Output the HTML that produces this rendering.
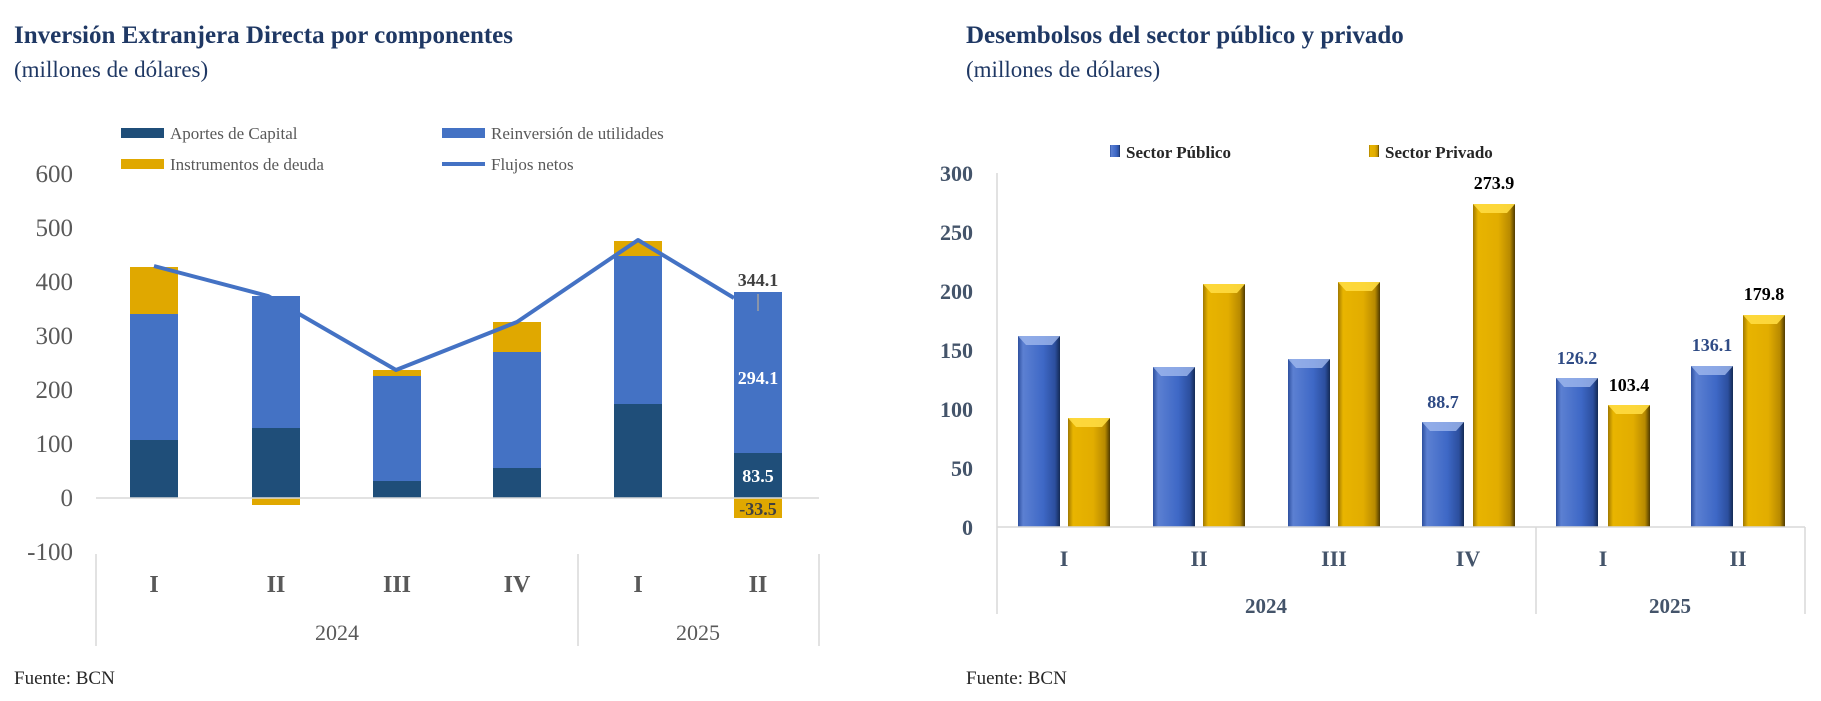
<!DOCTYPE html>
<html><head><meta charset="utf-8"><style>
html,body{margin:0;padding:0;background:#fff;}
svg{display:block;font-family:"Liberation Serif",serif;}
</style></head><body>
<svg width="1821" height="701" viewBox="0 0 1821 701" xmlns="http://www.w3.org/2000/svg">
<defs>
<linearGradient id="gb" x1="0" x2="1" y1="0" y2="0">
<stop offset="0" stop-color="#2d4f9e"/><stop offset="0.12" stop-color="#5c80d2"/><stop offset="0.6" stop-color="#3e68c6"/><stop offset="0.88" stop-color="#2c4f9e"/><stop offset="1" stop-color="#142a55"/></linearGradient>
<linearGradient id="gy" x1="0" x2="1" y1="0" y2="0">
<stop offset="0" stop-color="#a07800"/><stop offset="0.12" stop-color="#e8b400"/><stop offset="0.6" stop-color="#e2ad00"/><stop offset="0.88" stop-color="#b88a00"/><stop offset="1" stop-color="#4f3a00"/></linearGradient>
</defs>
<!-- LEFT -->
<text x="14" y="43" font-size="25" font-weight="bold" fill="#1f3864">Inversión Extranjera Directa por componentes</text>
<text x="14" y="77" font-size="23" fill="#1f3864">(millones de dólares)</text>
<rect x="121" y="128" width="43" height="10" fill="#1f4e79"/><text x="170" y="139" font-size="17" fill="#595959">Aportes de Capital</text>
<rect x="442" y="128" width="43" height="10" fill="#4472c4"/><text x="491" y="139" font-size="17" fill="#595959">Reinversión de utilidades</text>
<rect x="121" y="159" width="43" height="10" fill="#e0a800"/><text x="170" y="170" font-size="17" fill="#595959">Instrumentos de deuda</text>
<line x1="442" y1="164" x2="485" y2="164" stroke="#4472c4" stroke-width="4"/><text x="491" y="170" font-size="17" fill="#595959">Flujos netos</text>
<g font-size="25" fill="#595959" text-anchor="end">
<text x="73" y="182">600</text><text x="73" y="236">500</text><text x="73" y="290">400</text><text x="73" y="344">300</text><text x="73" y="398">200</text><text x="73" y="452">100</text><text x="73" y="506">0</text><text x="73" y="560">-100</text></g>
<g>
<rect x="130" y="440" width="48" height="58" fill="#1f4e79"/><rect x="130" y="314" width="48" height="126" fill="#4472c4"/><rect x="130" y="267" width="48" height="47" fill="#e0a800"/>
<rect x="252" y="428" width="48" height="70" fill="#1f4e79"/><rect x="252" y="296" width="48" height="132" fill="#4472c4"/><rect x="252" y="498" width="48" height="7" fill="#e0a800"/>
<rect x="373" y="481" width="48" height="17" fill="#1f4e79"/><rect x="373" y="376" width="48" height="105" fill="#4472c4"/><rect x="373" y="370" width="48" height="6" fill="#e0a800"/>
<rect x="493" y="468" width="48" height="30" fill="#1f4e79"/><rect x="493" y="352" width="48" height="116" fill="#4472c4"/><rect x="493" y="322" width="48" height="30" fill="#e0a800"/>
<rect x="614" y="404" width="48" height="94" fill="#1f4e79"/><rect x="614" y="256" width="48" height="148" fill="#4472c4"/><rect x="614" y="241" width="48" height="15" fill="#e0a800"/>
<rect x="734" y="453" width="48" height="45" fill="#1f4e79"/><rect x="734" y="292" width="48" height="161" fill="#4472c4"/><rect x="734" y="498" width="48" height="20" fill="#e0a800"/>
</g>
<line x1="96" y1="498" x2="819" y2="498" stroke="#d9d9d9" stroke-width="1.5"/>
<polyline points="154,266 268,296 396,370 517,322 638,240 734,298" fill="none" stroke="#4472c4" stroke-width="4" stroke-linejoin="round"/>
<line x1="758" y1="294" x2="758" y2="311" stroke="#a0a0a0" stroke-width="1.5"/>
<g font-size="18" font-weight="bold" text-anchor="middle">
<text x="758" y="286" fill="#404040">344.1</text>
<text x="758" y="384" fill="#fff">294.1</text>
<text x="758" y="482" fill="#fff">83.5</text>
<text x="758" y="515" fill="#404040">-33.5</text></g>
<g stroke="#d9d9d9" stroke-width="1.5"><line x1="96" y1="554" x2="96" y2="646"/><line x1="578" y1="554" x2="578" y2="646"/><line x1="819" y1="554" x2="819" y2="646"/></g>
<g font-size="24" font-weight="bold" fill="#595959" text-anchor="middle">
<text x="154" y="592">I</text><text x="276" y="592">II</text><text x="397" y="592">III</text><text x="517" y="592">IV</text><text x="638" y="592">I</text><text x="758" y="592">II</text></g>
<g font-size="22" fill="#595959" text-anchor="middle"><text x="337" y="640">2024</text><text x="698" y="640">2025</text></g>
<text x="14" y="684" font-size="19" fill="#262626">Fuente: BCN</text>

<!-- RIGHT -->
<text x="966" y="43" font-size="25" font-weight="bold" fill="#1f3864">Desembolsos del sector público y privado</text>
<text x="966" y="77" font-size="23" fill="#1f3864">(millones de dólares)</text>
<rect x="1110" y="145" width="10" height="12" fill="url(#gb)"/><text x="1126" y="158" font-size="17" font-weight="bold" fill="#262626">Sector Público</text>
<rect x="1369" y="145" width="10" height="12" fill="url(#gy)"/><text x="1385" y="158" font-size="17" font-weight="bold" fill="#262626">Sector Privado</text>
<g font-size="22" font-weight="bold" fill="#44546a" text-anchor="end">
<text x="973" y="181">300</text><text x="973" y="240">250</text><text x="973" y="299">200</text><text x="973" y="358">150</text><text x="973" y="417">100</text><text x="973" y="476">50</text><text x="973" y="535">0</text></g>
<line x1="997" y1="173" x2="997" y2="614" stroke="#d9d9d9" stroke-width="1.5"/>
<g>
<rect x="1018" y="336" width="42" height="191" fill="url(#gb)"/>
<rect x="1153" y="367" width="42" height="160" fill="url(#gb)"/>
<rect x="1288" y="359" width="42" height="168" fill="url(#gb)"/>
<rect x="1422" y="422" width="42" height="105" fill="url(#gb)"/>
<rect x="1556" y="378" width="42" height="149" fill="url(#gb)"/>
<rect x="1691" y="366" width="42" height="161" fill="url(#gb)"/>
<rect x="1068" y="418" width="42" height="109" fill="url(#gy)"/>
<rect x="1203" y="284" width="42" height="243" fill="url(#gy)"/>
<rect x="1338" y="282" width="42" height="245" fill="url(#gy)"/>
<rect x="1473" y="204" width="42" height="323" fill="url(#gy)"/>
<rect x="1608" y="405" width="42" height="122" fill="url(#gy)"/>
<rect x="1743" y="315" width="42" height="212" fill="url(#gy)"/>
</g>
<g fill="#9fb8ee" opacity="0.8">
<polygon points="1018,336 1060,336 1052,345 1026,345"/><polygon points="1153,367 1195,367 1187,376 1161,376"/><polygon points="1288,359 1330,359 1322,368 1296,368"/><polygon points="1422,422 1464,422 1456,431 1430,431"/><polygon points="1556,378 1598,378 1590,387 1564,387"/><polygon points="1691,366 1733,366 1725,375 1699,375"/></g>
<g fill="#ffdc40" opacity="0.9">
<polygon points="1068,418 1110,418 1102,427 1076,427"/><polygon points="1203,284 1245,284 1237,293 1211,293"/><polygon points="1338,282 1380,282 1372,291 1346,291"/><polygon points="1473,204 1515,204 1507,213 1481,213"/><polygon points="1608,405 1650,405 1642,414 1616,414"/><polygon points="1743,315 1785,315 1777,324 1751,324"/></g>
<line x1="997" y1="527" x2="1805" y2="527" stroke="#d9d9d9" stroke-width="1.5"/>
<g stroke="#d9d9d9" stroke-width="1.5"><line x1="1536" y1="527" x2="1536" y2="614"/><line x1="1805" y1="527" x2="1805" y2="614"/></g>
<g font-size="18" font-weight="bold" text-anchor="middle">
<text x="1494" y="189" fill="#000">273.9</text>
<text x="1443" y="408" fill="#2f4b85">88.7</text>
<text x="1577" y="364" fill="#2f4b85">126.2</text>
<text x="1629" y="391" fill="#000">103.4</text>
<text x="1712" y="351" fill="#2f4b85">136.1</text>
<text x="1764" y="300" fill="#000">179.8</text></g>
<g font-size="22" font-weight="bold" fill="#44546a" text-anchor="middle">
<text x="1064" y="566">I</text><text x="1199" y="566">II</text><text x="1334" y="566">III</text><text x="1468" y="566">IV</text><text x="1603" y="566">I</text><text x="1738" y="566">II</text></g>
<g font-size="21" font-weight="bold" fill="#44546a" text-anchor="middle"><text x="1266" y="613">2024</text><text x="1670" y="613">2025</text></g>
<text x="966" y="684" font-size="19" fill="#262626">Fuente: BCN</text>
</svg>
</body></html>
